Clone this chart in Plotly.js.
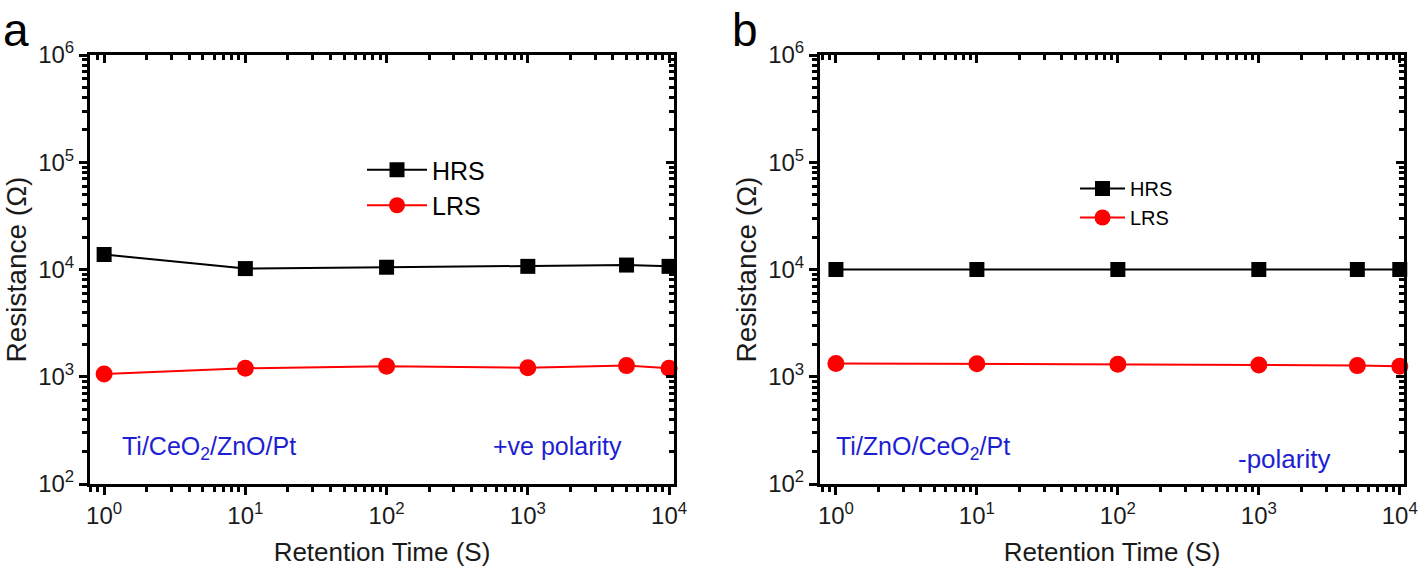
<!DOCTYPE html>
<html><head><meta charset="utf-8">
<script src="https://cdn.plot.ly/plotly-3.0.1.min.js"></script>
<style>body{margin:0;background:#fff}#plot{width:1418px;height:575px}</style>
</head><body><div id="plot"></div>
<script>
const time = [1, 10, 100, 1000, 5000, 10000];
const hrsA = [13800, 10200, 10500, 10700, 11000, 10700];
const lrsA = [1060, 1200, 1250, 1215, 1270, 1200];
const hrsB = [10000, 10000, 10000, 10000, 10000, 10000];
const lrsB = [1330, 1320, 1310, 1290, 1270, 1250];
const yTickVals = [100, 1000, 10000, 100000, 1000000];
const yTickText = ['10<sup>2</sup>', '10<sup>3</sup>', '10<sup>4</sup>', '10<sup>5</sup>', '10<sup>6</sup>'];
const xTickVals = [1, 10, 100, 1000, 10000];
const xTickText = ['10<sup>0</sup>', '10<sup>1</sup>', '10<sup>2</sup>', '10<sup>3</sup>', '10<sup>4</sup>'];

const FONT = 'Liberation Sans, Arial, sans-serif';
const TXT = '#1a1a1a';
const hrsStyle = {mode: 'lines+markers', line: {color: 'black', width: 2}, marker: {symbol: 'square', size: 15, color: 'black'}, cliponaxis: false};
const lrsStyle = {mode: 'lines+markers', line: {color: 'red', width: 2}, marker: {symbol: 'circle', size: 17, color: 'red'}, cliponaxis: false};
const ghost = {mode: 'markers', marker: {opacity: 0, size: 1}, showlegend: false, hoverinfo: 'skip'};

const traces = [
  Object.assign({x: time, y: hrsA, name: 'HRS', xaxis: 'x', yaxis: 'y', legend: 'legend'}, hrsStyle),
  Object.assign({x: time, y: lrsA, name: 'LRS', xaxis: 'x', yaxis: 'y', legend: 'legend'}, lrsStyle),
  Object.assign({x: time, y: hrsB, name: 'HRS', xaxis: 'x2', yaxis: 'y2', legend: 'legend2'}, hrsStyle),
  Object.assign({x: time, y: lrsB, name: 'LRS', xaxis: 'x2', yaxis: 'y2', legend: 'legend2'}, lrsStyle),
  Object.assign({x: time, y: hrsA, xaxis: 'x3', yaxis: 'y3'}, ghost),
  Object.assign({x: time, y: hrsB, xaxis: 'x4', yaxis: 'y4'}, ghost)
];

const yDom = [1 - 484/575, 1 - 55/575];
const dA = [90/1418, 674/1418];
const dB = [820/1418, 1404/1418];
const xRangeA = [-0.1, 4.035];
const xRangeB = [-0.113, 4.03];
const yRange = [2, 6];

function xBottom(dom, rng, anchor) {
  return {type: 'log', domain: dom, range: rng, anchor: anchor, tickvals: xTickVals, ticktext: xTickText,
    ticks: 'outside', ticklen: 8, tickwidth: 3, tickcolor: 'black', showline: true, linewidth: 3, linecolor: 'black',
    showgrid: false, zeroline: false, tickfont: {family: FONT, size: 24, color: TXT},
    minor: {ticks: 'outside', ticklen: 5, tickwidth: 3, tickcolor: 'black', dtick: 'D1', showgrid: false},
    title: {text: 'Retention Time (S)', font: {family: FONT, size: 26, color: TXT}, standoff: 16}};
}
function xTop(dom, rng, anchor, over) {
  return {type: 'log', domain: dom, range: rng, anchor: anchor, overlaying: over, side: 'top', tickvals: xTickVals,
    showticklabels: false, ticks: 'inside', ticklen: 8, tickwidth: 3, tickcolor: 'black', showline: true, linewidth: 3, linecolor: 'black',
    showgrid: false, zeroline: false, minor: {ticks: 'inside', ticklen: 5, tickwidth: 3, tickcolor: 'black', dtick: 'D1', showgrid: false}};
}
function yLeft(anchor) {
  return {type: 'log', domain: yDom, range: yRange, anchor: anchor, tickvals: yTickVals, ticktext: yTickText,
    ticks: 'outside', ticklen: 8, tickwidth: 3, tickcolor: 'black', showline: true, linewidth: 3, linecolor: 'black',
    showgrid: false, zeroline: false, tickfont: {family: FONT, size: 24, color: TXT},
    minor: {ticks: 'outside', ticklen: 5, tickwidth: 3, tickcolor: 'black', dtick: 'D1', showgrid: false},
    title: {text: 'Resistance (Ω)', font: {family: FONT, size: 28, color: TXT}, standoff: 4}};
}
function yRight(anchor, over) {
  return {type: 'log', domain: yDom, range: yRange, anchor: anchor, overlaying: over, side: 'right', tickvals: yTickVals,
    showticklabels: false, ticks: 'inside', ticklen: 8, tickwidth: 3, tickcolor: 'black', showline: true, linewidth: 3, linecolor: 'black',
    showgrid: false, zeroline: false, minor: {ticks: 'inside', ticklen: 5, tickwidth: 3, tickcolor: 'black', dtick: 'D1', showgrid: false}};
}

const blue = 'rgb(30,30,210)';
const layout = {
  width: 1418, height: 575, margin: {l: 0, r: 0, t: 0, b: 0},
  paper_bgcolor: 'white', plot_bgcolor: 'white', font: {family: FONT},
  xaxis: xBottom(dA, xRangeA, 'y'),
  yaxis: yLeft('x'),
  xaxis2: xBottom(dB, xRangeB, 'y2'),
  yaxis2: yLeft('x2'),
  xaxis3: xTop(dA, xRangeA, 'y', 'x'),
  yaxis3: yRight('x', 'y'),
  xaxis4: xTop(dB, xRangeB, 'y2', 'x2'),
  yaxis4: yRight('x2', 'y2'),
  legend: {x: 362/1418, y: 1 - 147/575, xanchor: 'left', yanchor: 'top', bgcolor: 'rgba(0,0,0,0)',
    font: {family: FONT, size: 25, color: 'black'}, itemwidth: 60, tracegroupgap: 0},
  legend2: {x: 1075/1418, y: 1 - 169/575, xanchor: 'left', yanchor: 'top', bgcolor: 'rgba(0,0,0,0)',
    font: {family: FONT, size: 20, color: 'black'}, itemwidth: 45, tracegroupgap: 0},
  showlegend: true,
  annotations: [
    {text: 'a', xref: 'paper', yref: 'paper', x: 1/1418, y: 1 - 2/575, xanchor: 'left', yanchor: 'top', showarrow: false, font: {family: FONT, size: 46, color: 'black'}},
    {text: 'b', xref: 'paper', yref: 'paper', x: 730/1418, y: 1 - 2/575, xanchor: 'left', yanchor: 'top', showarrow: false, font: {family: FONT, size: 46, color: 'black'}},
    {text: 'Ti/CeO<sub>2</sub>/ZnO/Pt', xref: 'paper', yref: 'paper', x: 120/1418, y: 1 - 448/575, xanchor: 'left', yanchor: 'middle', showarrow: false, font: {family: FONT, size: 25, color: blue}},
    {text: '+ve polarity', xref: 'paper', yref: 'paper', x: 624/1418, y: 1 - 446/575, xanchor: 'right', yanchor: 'middle', showarrow: false, font: {family: FONT, size: 25, color: blue}},
    {text: 'Ti/ZnO/CeO<sub>2</sub>/Pt', xref: 'paper', yref: 'paper', x: 834/1418, y: 1 - 448/575, xanchor: 'left', yanchor: 'middle', showarrow: false, font: {family: FONT, size: 25, color: blue}},
    {text: '-polarity', xref: 'paper', yref: 'paper', x: 1332/1418, y: 1 - 459/575, xanchor: 'right', yanchor: 'middle', showarrow: false, font: {family: FONT, size: 26, color: blue}}
  ]
};
Plotly.newPlot('plot', traces, layout, {displayModeBar: false, staticPlot: true});
</script></body></html>
